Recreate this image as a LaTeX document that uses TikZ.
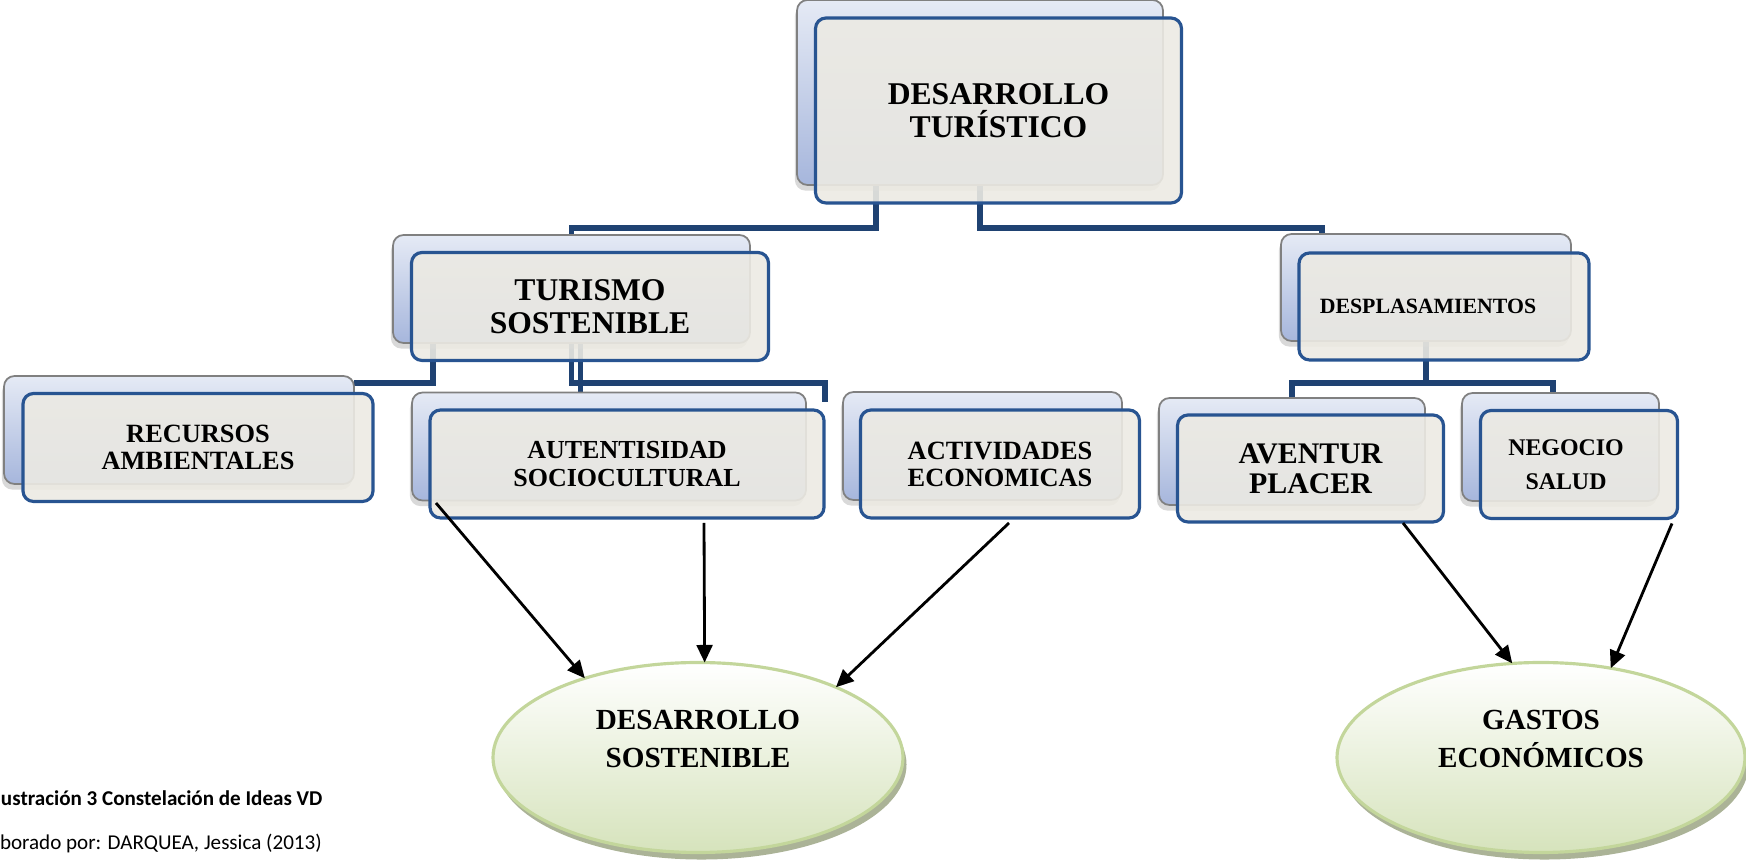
\documentclass[tikz,border=0pt]{standalone}
\usepackage{fontspec}
\setmainfont{Liberation Serif}
\newfontfamily\capfont{Carlito}
\usetikzlibrary{shapes.geometric,arrows.meta,shadows,backgrounds}
\definecolor{linkblue}{RGB}{31,66,114}
\definecolor{edgeblue}{RGB}{40,84,145}
\definecolor{paper}{RGB}{236,234,227}
\definecolor{lavtop}{RGB}{229,234,245}
\definecolor{lavbot}{RGB}{166,182,220}
\definecolor{leaf}{RGB}{214,227,188}
\definecolor{leafline}{RGB}{195,214,155}
\definecolor{leafshade}{RGB}{150,160,125}

\begin{document}
\begin{tikzpicture}[outer sep=0pt,inner sep=0pt,
    backbox/.style={rectangle,rounded corners=3pt,draw=black!50,line width=.5pt,top color=lavtop,bottom color=lavbot,
      drop shadow={shadow xshift=-.6pt,shadow yshift=-1.6pt,opacity=.3}},
    frontbox/.style={rectangle,rounded corners=3pt,draw=edgeblue,line width=.9pt,fill=paper,fill opacity=.9,text opacity=1,align=center},
    goal/.style={ellipse,draw=leafline,line width=.9pt,top color=white,bottom color=leaf,minimum width=4.1cm,minimum height=1.9cm,
      drop shadow={shadow xshift=1pt,shadow yshift=-2pt,fill=leafshade,opacity=.8}},
    link/.style={draw=linkblue,line width=1.5pt},
    flecha/.style={black,line width=.8pt,-{Triangle[length=5pt,width=4.5pt]}}]
    \useasboundingbox (0,0) rectangle (17.46,-8.64);
    % back boxes
    \node[backbox,minimum width=3.66cm,minimum height=1.85cm] (dtback) at (9.80,-0.925) {};
    \node[backbox,minimum width=3.57cm,minimum height=1.08cm] (tsback) at (5.715,-2.89) {};
    \node[backbox,minimum width=2.90cm,minimum height=1.07cm] (dpback) at (14.26,-2.875) {};
    \node[backbox,minimum width=3.50cm,minimum height=1.08cm] (raback) at (1.79,-4.30) {};
    \node[backbox,minimum width=3.94cm,minimum height=1.08cm] (asback) at (6.09,-4.465) {};
    \node[backbox,minimum width=2.79cm,minimum height=1.08cm] (aeback) at (9.825,-4.46) {};
    \node[backbox,minimum width=2.66cm,minimum height=1.07cm] (apback) at (12.92,-4.515) {};
    \node[backbox,minimum width=1.97cm,minimum height=1.08cm] (nsback) at (15.605,-4.47) {};
    % front boxes
    \node[frontbox,minimum width=3.66cm,minimum height=1.85cm,font=\bfseries\fontsize{9}{9.4}\selectfont] (dt) at (9.985,-1.105) {DESARROLLO\\TURÍSTICO};
    \node[frontbox,minimum width=3.57cm,minimum height=1.08cm,font=\bfseries\fontsize{9}{9.4}\selectfont] (ts) at (5.90,-3.065) {TURISMO\\SOSTENIBLE};
    \node[frontbox,minimum width=2.90cm,minimum height=1.07cm,font=\bfseries\fontsize{6.2}{7.5}\selectfont] (dp) at (14.44,-3.065) {DESPLASAMIENTOS\kern.32cm};
    \node[frontbox,minimum width=3.50cm,minimum height=1.08cm,font=\bfseries\fontsize{7.5}{7.7}\selectfont] (ra) at (1.98,-4.475) {RECURSOS\\AMBIENTALES};
    \node[frontbox,minimum width=3.94cm,minimum height=1.08cm,font=\bfseries\fontsize{7.4}{8}\selectfont] (as) at (6.27,-4.64) {AUTENTISIDAD\\SOCIOCULTURAL};
    \node[frontbox,minimum width=2.79cm,minimum height=1.08cm,font=\bfseries\fontsize{7.5}{7.7}\selectfont] (ae) at (10.00,-4.64) {ACTIVIDADES\\ECONOMICAS};
    \node[frontbox,minimum width=2.66cm,minimum height=1.07cm,font=\bfseries\fontsize{8.5}{8.6}\selectfont] (ap) at (13.105,-4.685) {AVENTUR\\PLACER};
    \node[frontbox,minimum width=1.97cm,minimum height=1.08cm,font=\bfseries\fontsize{6.8}{9.8}\selectfont] (ns) at (15.79,-4.645) {NEGOCIO\kern.26cm\\SALUD\kern.26cm};
    % ellipses
    \node[goal,label={[align=center,yshift=.185cm,font=\bfseries\fontsize{8.3}{10.9}\selectfont]center:DESARROLLO\\SOSTENIBLE}] (ds) at (6.98,-7.575) {};
    \node[goal,minimum width=4.08cm,label={[align=center,yshift=.185cm,font=\bfseries\fontsize{8.3}{10.9}\selectfont]center:GASTOS\\ECONÓMICOS}] (ge) at (15.41,-7.575) {};
    \coordinate (aetip) at ([xshift=-0.18cm,yshift=-0.10cm]aeback.north west);
    % tree links
    \begin{pgfonlayer}{background}
      \draw[link] ([xshift=-1.04cm]dtback.south) -- ++(0,-0.43) -| (tsback.north);
      \draw[link] (dtback.south) -- ++(0,-0.43) -| ([xshift=-1.04cm]dpback.north);
      \draw[link] ([xshift=-1.385cm]tsback.south) |- ([yshift=-0.07cm]raback.north east);
      \draw[link] (tsback.south) -- ++(0,-0.40) -| (aetip);
      \draw[link] ([xshift=0.09cm]tsback.south) -- ([xshift=0.09cm]tsback.south |- asback.north);
      \draw[link] (dpback.south) -- ++(0,-0.42) -| (apback.north);
      \draw[link] (dpback.south) -- ++(0,-0.42) -| ([xshift=-0.075cm]nsback.north);
    \end{pgfonlayer}
    \path[flecha]%
      ([xshift=0.06cm,yshift=0.15cm]as.south west) edge (ds.145)
      ([xshift=0.77cm,yshift=-0.05cm]as.south) edge (ds.86)
      ([xshift=0.09cm,yshift=-0.05cm]ae.south) edge (ds.27)
      ([xshift=0.925cm,yshift=-0.01cm]ap.south) edge (ge.107)
      ([xshift=0.93cm,yshift=-0.05cm]ns.south) edge (ge.52);
    \node[anchor=base west,font=\capfont\bfseries\fontsize{6}{7}\selectfont] (cap1) at (0.01,-8.06) {ustración 3 Constelación de Ideas VD};
    \node[anchor=base west,font=\capfont\fontsize{6}{7}\selectfont] (cap2) at (0.0,-8.49) {borado por: DARQUEA, Jessica (2013)};
\end{tikzpicture}
\end{document}
